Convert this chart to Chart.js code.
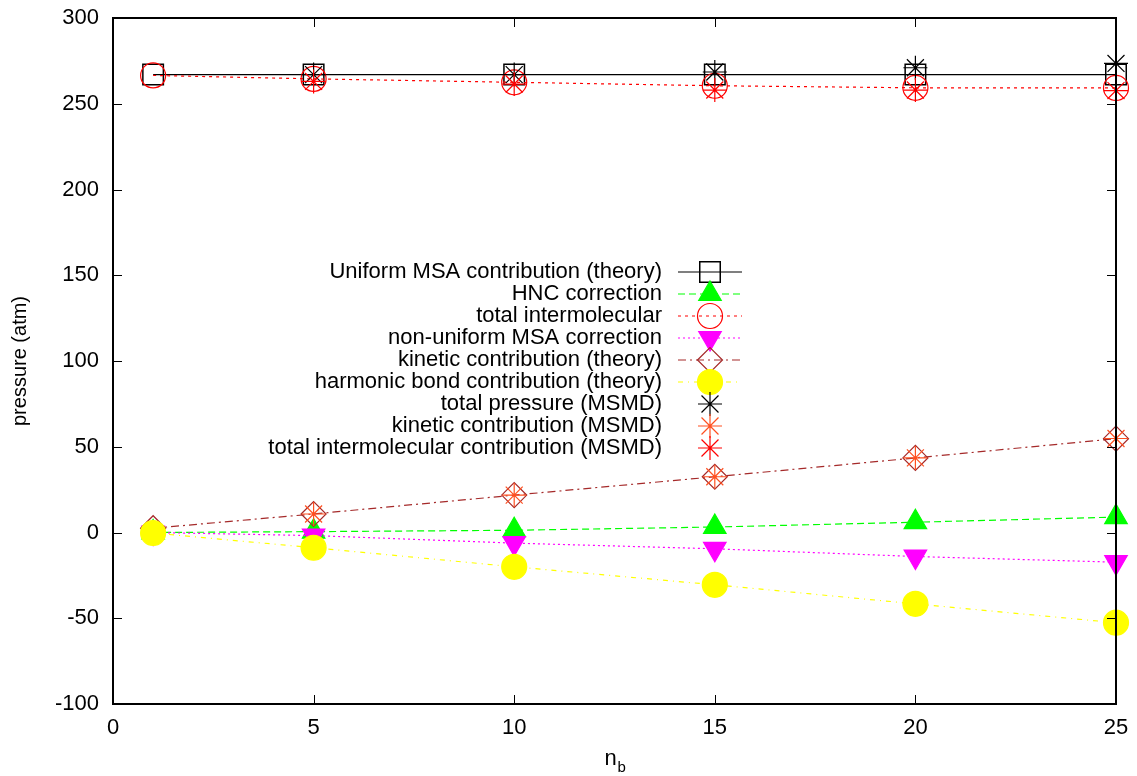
<!DOCTYPE html>
<html>
<head>
<meta charset="utf-8">
<script src="https://cdn.jsdelivr.net/npm/chart.js@4/dist/chart.umd.min.js"></script>
<style>
  html, body { margin: 0; padding: 0; background: #fff; }
  canvas { display: block; }
</style>
</head>
<body>
<canvas id="pressureChart" width="1137" height="776"></canvas>
<script>
const FONT = '"Liberation Sans", Arial, Helvetica, sans-serif'

// n_b values
const nb = [1, 5, 10, 15, 20, 25]
const nbMsmd = [5, 10, 15, 20, 25]

// theory curves
const uniformMsa = [267, 267, 267, 267, 267, 267]
const hncCorrection = [0, 0.5, 1.3, 3.2, 6, 9]
const totalInter = [266.5, 264.5, 262.5, 260.5, 259.3, 259.2]
const nonUniformMsa = [0, -1.8, -6.2, -9.5, -14, -17.3]
const kineticTheory = [2.5, 10.8, 21.8, 32.5, 43.5, 54.7]
const harmonicBond = [-0.3, -8.9, -20, -30.5, -41.6, -52.6]

// simulation points
const totalPressureMsmd = [267, 267, 268.5, 271, 273.5]
const kineticMsmd = [10.8, 21.8, 32.5, 43.5, 54.8]
const totalInterMsmd = [263, 261.5, 258, 258, 257.7]

const xTicks = [0, 5, 10, 15, 20, 25]
const yTicks = [-100, -50, 0, 50, 100, 150, 200, 250, 300]

const toPoints = (xs, ys) => xs.map((x, i) => ({ x, y: ys[i] }))

function series(label, xs, ys, color, opts) {
  return {
    label,
    data: toPoints(xs, ys),
    borderColor: color,
    backgroundColor: color,
    borderWidth: 1.2,
    borderDash: opts.dash || [],
    showLine: opts.line !== false,
    pointStyle: opts.style,
    pointRotation: opts.rotation || 0,
    pointRadius: opts.radius,
    pointHoverRadius: opts.radius,
    pointBorderColor: color,
    pointBackgroundColor: opts.filled ? color : 'rgba(0,0,0,0)',
    pointBorderWidth: opts.pointWidth || 1.2,
    tension: 0,
    fill: false,
    clip: false,
  }
}

const datasets = [
  series('Uniform MSA contribution (theory)', nb, uniformMsa, '#000000', { style: 'rect', radius: 14.5, pointWidth: 1.5 }),
  series('HNC correction', nb, hncCorrection, '#00ff00', { style: 'triangle', radius: 13, filled: true, dash: [7, 4] }),
  series('total intermolecular', nb, totalInter, '#ff0000', { style: 'circle', radius: 12.5, dash: [3, 4] }),
  series('non-uniform MSA correction', nb, nonUniformMsa, '#ff00ff', { style: 'triangle', rotation: 180, radius: 13, filled: true, dash: [2, 3] }),
  series('kinetic contribution (theory)', nb, kineticTheory, '#a52a2a', { style: 'rectRot', radius: 12.5, dash: [8, 4, 2, 4] }),
  series('harmonic bond contribution (theory)', nb, harmonicBond, '#ffff00', { style: 'circle', radius: 12.5, filled: true, dash: [5, 5, 1, 5] }),
  series('total pressure (MSMD)', nbMsmd, totalPressureMsmd, '#000000', { style: 'star', radius: 12, line: false }),
  series('kinetic contribution (MSMD)', nbMsmd, kineticMsmd, '#ff5020', { style: 'star', radius: 12, line: false }),
  series('total intermolecular contribution (MSMD)', nbMsmd, totalInterMsmd, '#ff0000', { style: 'star', radius: 12, line: false }),
]
// later series are drawn on top, like gnuplot
datasets.forEach((ds, i) => { ds.order = datasets.length - i })

// frame, inward ticks on all four sides, x title with subscript
const framePlugin = {
  id: 'frame',
  afterDatasetsDraw(chart) {
    const { ctx, chartArea: a, scales } = chart
    ctx.save()
    ctx.strokeStyle = '#000'
    ctx.lineWidth = 1
    ctx.setLineDash([])
    ctx.beginPath()
    for (const t of scales.x.ticks) {
      const px = Math.round(scales.x.getPixelForValue(t.value)) + 0.5
      ctx.moveTo(px, a.bottom); ctx.lineTo(px, a.bottom - 9)
      ctx.moveTo(px, a.top); ctx.lineTo(px, a.top + 9)
    }
    for (const t of scales.y.ticks) {
      const py = Math.round(scales.y.getPixelForValue(t.value)) + 0.5
      ctx.moveTo(a.left, py); ctx.lineTo(a.left + 9, py)
      ctx.moveTo(a.right, py); ctx.lineTo(a.right - 9, py)
    }
    ctx.stroke()
    ctx.lineWidth = 2
    ctx.strokeRect(a.left, a.top, a.right - a.left, a.bottom - a.top)

    ctx.fillStyle = '#000'
    ctx.textBaseline = 'alphabetic'
    ctx.textAlign = 'left'
    const cx = (a.left + a.right) / 2
    ctx.font = '22px ' + FONT
    ctx.fillText('n', cx - 10, 765)
    ctx.font = '15px ' + FONT
    ctx.fillText('b', cx + 3, 772)
    ctx.restore()
  },
}

// gnuplot-style key: text right aligned, sample to the right
const keyPlugin = {
  id: 'gnuKey',
  afterDatasetsDraw(chart) {
    const ctx = chart.ctx
    const drawPoint = Chart.helpers.drawPoint
    ctx.save()
    chart.data.datasets.forEach((ds, i) => {
      const y = 272 + i * 22
      ctx.font = '22px ' + FONT
      ctx.textAlign = 'right'
      ctx.textBaseline = 'middle'
      ctx.fillStyle = '#000'
      ctx.fillText(ds.label, 662, y)
      if (ds.showLine) {
        ctx.strokeStyle = ds.borderColor
        ctx.lineWidth = ds.borderWidth
        ctx.setLineDash(ds.borderDash)
        ctx.beginPath()
        ctx.moveTo(678, y)
        ctx.lineTo(742, y)
        ctx.stroke()
      }
      ctx.setLineDash([])
      ctx.strokeStyle = ds.pointBorderColor
      ctx.fillStyle = ds.pointBackgroundColor
      ctx.lineWidth = ds.pointBorderWidth
      drawPoint(ctx, {
        pointStyle: ds.pointStyle,
        rotation: ds.pointRotation,
        radius: ds.pointRadius,
        borderWidth: ds.pointBorderWidth,
      }, 710, y)
    })
    ctx.restore()
  },
}

// fixed scale sizes so the plot box sits where the original has it
function noScalePadding(scale) {
  scale.paddingTop = 0
  scale.paddingBottom = 0
  scale.paddingLeft = 0
  scale.paddingRight = 0
}

Chart.defaults.font.family = FONT
Chart.defaults.font.size = 22
Chart.defaults.color = '#000'

new Chart(document.getElementById('pressureChart'), {
  type: 'line',
  data: { datasets },
  options: {
    responsive: false,
    animation: false,
    events: [],
    layout: { padding: { top: 18, right: 21, left: 0, bottom: 0 } },
    plugins: {
      legend: { display: false },
      tooltip: { enabled: false },
    },
    scales: {
      x: {
        type: 'linear',
        min: 0,
        max: 25,
        afterBuildTicks: scale => { scale.ticks = xTicks.map(value => ({ value })) },
        afterFit: scale => { scale.height = 72; noScalePadding(scale) },
        grid: { display: false, drawTicks: false },
        border: { display: false },
        ticks: { padding: 11, maxRotation: 0 },
      },
      y: {
        type: 'linear',
        min: -100,
        max: 300,
        afterBuildTicks: scale => { scale.ticks = yTicks.map(value => ({ value })) },
        afterFit: scale => { scale.width = 113; noScalePadding(scale) },
        grid: { display: false, drawTicks: false },
        border: { display: false },
        ticks: { padding: 14 },
        title: {
          display: true,
          text: 'pressure (atm)',
          font: { size: 20 },
          padding: { top: 8, bottom: 0 },
        },
      },
    },
  },
  plugins: [framePlugin, keyPlugin],
})
</script>
</body>
</html>
